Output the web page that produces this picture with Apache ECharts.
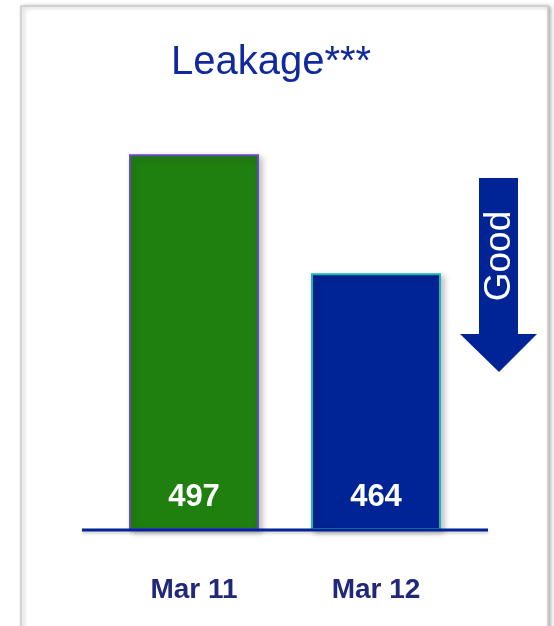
<!DOCTYPE html>
<html>
<head>
<meta charset="utf-8">
<script src="https://cdn.jsdelivr.net/npm/echarts@6/dist/echarts.min.js"></script>
<style>
html,body{margin:0;padding:0;background:#fff;}
#c{width:554px;height:626px;}
</style>
</head>
<body>
<div id="c"></div>
<script>
// Data
var titleText = 'Leakage***';
var categories = ['Mar 11', 'Mar 12'];
var values = [497, 464];
var arrowText = 'Good';

// Styles
var barColors = ['#1f8010', '#002395'];
var barBorders = ['#6a48c2', '#20b4b8'];
var navy = '#002395';

var chart = echarts.init(document.getElementById('c'), null, {renderer: 'canvas'});
var font = '"Liberation Sans", Arial, sans-serif';

var option = {
  backgroundColor: '#ffffff',
  animation: false,
  title: {
    text: titleText,
    left: 266,
    top: 38,
    textAlign: 'center',
    textStyle: {fontFamily: font, fontSize: 40, fontWeight: 'normal', color: '#10299c'}
  },
  grid: {left: 103, right: 87, top: 129, bottom: 97},
  xAxis: {
    type: 'category',
    data: categories,
    axisLine: {show: false},
    axisTick: {show: false},
    axisLabel: {margin: 47, fontFamily: font, fontSize: 28, fontWeight: 'bold', color: '#21287a'}
  },
  yAxis: {
    type: 'value', min: 393, max: 504, show: false,
    splitLine: {show: false}
  },
  graphic: [
    {type: 'rect', z: -10, shape: {x: 21, y: 6, width: 527, height: 650},
     style: {fill: '#ffffff', stroke: '#cccccc', lineWidth: 1.5, shadowBlur: 4, shadowOffsetX: 2, shadowOffsetY: 1, shadowColor: 'rgba(0,0,0,0.3)'}},
    {type: 'line', z: 100, shape: {x1: 82, y1: 530, x2: 488, y2: 530},
     style: {stroke: navy, lineWidth: 3, shadowBlur: 3, shadowOffsetY: 2, shadowColor: 'rgba(0,0,0,0.2)'}},
    {type: 'polygon', z: 100, shape: {points: [[479,178],[518,178],[518,334],[537,334],[499,372],[460,334],[479,334]]},
     style: {fill: navy}},
    {type: 'text', z: 101, x: 500, y: 256, rotation: Math.PI / 2,
     style: {text: arrowText, fill: '#ffffff', font: 'normal 37px ' + font, align: 'center', verticalAlign: 'middle'}}
  ],
  series: [{
    type: 'bar',
    barWidth: 130,
    data: values.map(function (v, i) {
      return {value: v, itemStyle: {color: barColors[i], borderColor: barBorders[i]}};
    }),
    itemStyle: {borderWidth: 2, shadowBlur: 6, shadowOffsetX: 3, shadowOffsetY: 3, shadowColor: 'rgba(0,0,0,0.25)'},
    label: {show: true, position: 'insideBottom', distance: 17, fontFamily: font, fontSize: 31, fontWeight: 'bold', color: '#ffffff'}
  }]
};
chart.setOption(option);
</script>
</body>
</html>
